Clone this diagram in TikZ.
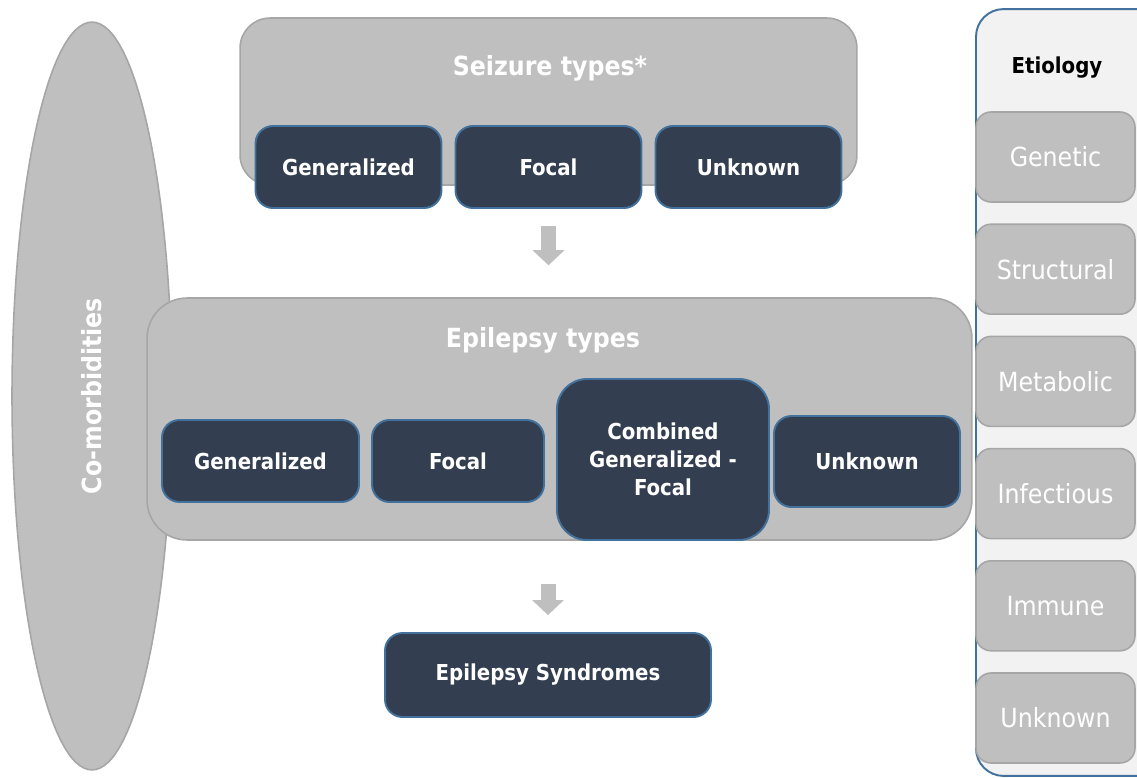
\documentclass[tikz,border=0pt]{standalone}
\usepackage{fontspec}
\setmainfont{DejaVuSansCondensed.ttf}[BoldFont=DejaVuSansCondensed-Bold.ttf]
\usetikzlibrary{arrows.meta,shapes.geometric}
\definecolor{boxgray}{HTML}{BFBFBF}
\definecolor{edgegray}{HTML}{A6A6A6}
\definecolor{navy}{HTML}{333F50}
\definecolor{steel}{HTML}{41719C}
\definecolor{paleback}{HTML}{F2F2F2}
\tikzset{
	outerbox/.style={draw=edgegray, fill=boxgray, line width=0.9pt, inner sep=0pt},
	titletext/.style={text=white, font=\bfseries\fontsize{15}{18}\selectfont},
	subbox/.style={draw=steel, fill=navy, line width=1.1pt, rounded corners=0.35cm, inner sep=0pt,
		text=white, align=center, font=\bfseries\fontsize{12.5}{16}\selectfont},
	comorb/.style={ellipse, draw=edgegray, fill=boxgray, line width=0.9pt, inner sep=0pt, rotate=90,
		minimum width=14.96cm, minimum height=3.2cm, text=white, font=\bfseries\fontsize{15}{18}\selectfont},
	etiocol/.style={draw=steel, fill=paleback, line width=1.1pt, rounded corners=0.55cm, inner sep=0pt},
	etioitem/.style={draw=edgegray, fill=boxgray, line width=0.9pt, rounded corners=0.3cm, inner sep=0pt,
		minimum width=3.18cm, minimum height=1.8cm, text=white, font=\fontsize{15}{18}\selectfont},
	blockarrow/.style={draw=boxgray, line width=0.3cm, -{Triangle[width=0.62cm,length=0.3cm]}}
}
\begin{document}
\begin{tikzpicture}[x=0.02cm, y=-0.02cm, line join=round]
	\useasboundingbox (0,0) rectangle (1137,778);
	% co-morbidities
	\node[comorb] (comorb) at (92,396) {Co-morbidities};
	% seizure types
	\node[outerbox, rounded corners=0.6cm, minimum width=12.34cm, minimum height=3.34cm] (seiz) at (548.5,101.5) {};
	\node[titletext] (seizT) at (550,68) {Seizure types*};
	\foreach \name/\lab [count=\i from 0] in {seizG/Generalized, seizF/Focal, seizU/Unknown}
		\node[subbox, minimum width=3.72cm, minimum height=1.64cm] (\name) at (348.5+200*\i,167) {\lab};
	% epilepsy types
	\node[outerbox, rounded corners=0.8cm, minimum width=16.5cm, minimum height=4.84cm] (epi) at (559.5,419) {};
	\node[titletext] (epiT) at (543,340) {Epilepsy types};
	\node[subbox, minimum width=3.94cm, minimum height=1.64cm] (epiG) at (260.5,461) {Generalized};
	\node[subbox, minimum width=3.44cm, minimum height=1.64cm] (epiF) at (458,461) {Focal};
	\node[subbox, rounded corners=0.6cm, minimum width=4.24cm, minimum height=3.22cm] (epiC) at (663,459.5) {Combined\\Generalized -\\Focal};
	\node[subbox, minimum width=3.72cm, minimum height=1.82cm] (epiU) at (867,461.5) {Unknown};
	% syndromes
	\node[subbox, minimum width=6.52cm, minimum height=1.68cm] (syn) at (548,675) {Epilepsy Syndromes};
	\draw[blockarrow, shorten <=0.34cm, shorten >=0.64cm] (seizF.south) -- (seizF.south |- epi.north);
	\draw[blockarrow, shorten <=0.86cm, shorten >=0.34cm] (syn.north |- epi.south) -- (syn.north);
	% etiology
	\node[etiocol, minimum width=4.08cm, minimum height=15.34cm] (etio) at (1078,392.5) {};
	\node[font=\bfseries\fontsize{12.5}{15}\selectfont] (etioT) at (1057,68) {Etiology};
	\foreach \lab [count=\i from 0] in {Genetic,Structural,Metabolic,Infectious,Immune,Unknown}
		\node[etioitem] (etio\i) at (1055.5,157+112.2*\i) {\lab};
\end{tikzpicture}
\end{document}
